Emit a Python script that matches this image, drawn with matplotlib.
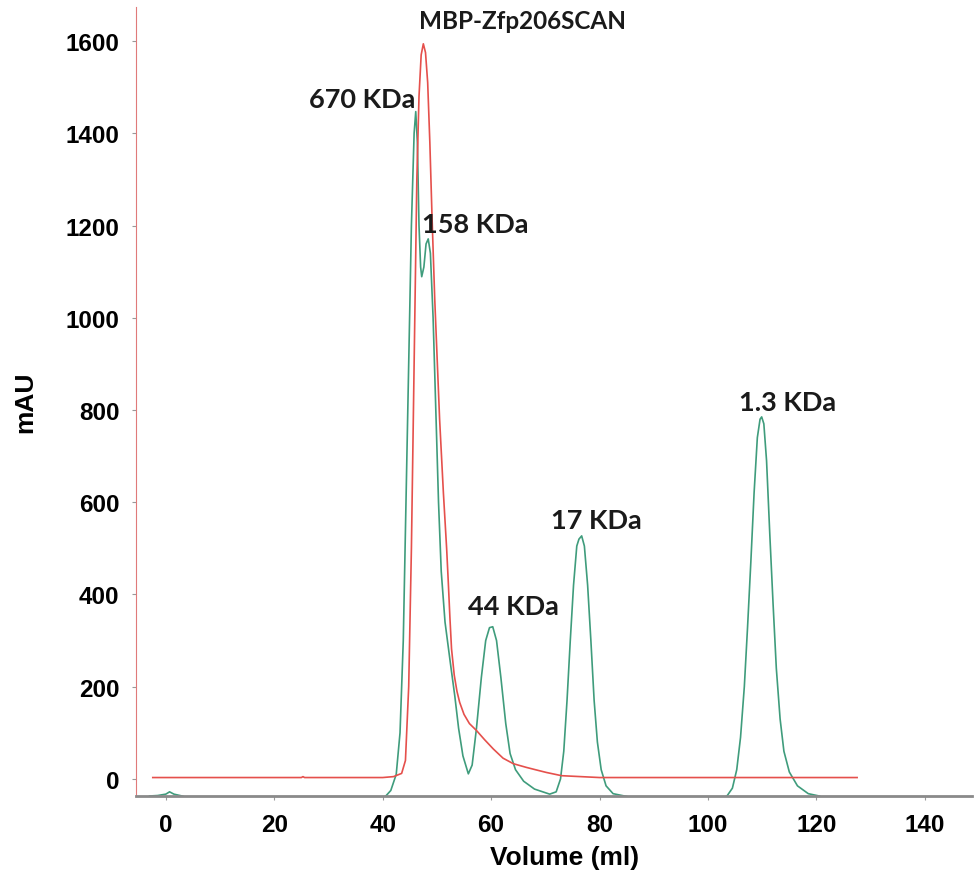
import matplotlib
matplotlib.use("Agg")
import matplotlib.pyplot as plt

matplotlib.rcParams['font.family'] = 'sans-serif'
matplotlib.rcParams['font.sans-serif'] = ['Liberation Sans', 'DejaVu Sans']

# calibration standards trace (green)
std_vol = [-3, -1.5, 0, 0.7, 1.5, 3, 5, 38, 40.5, 41.5, 42.5, 43.2, 43.8, 44.3, 44.8,
           45.3, 45.8, 46.1, 46.4, 46.7, 47.0, 47.2, 47.6, 48.0, 48.4, 48.8, 49.3,
           49.8, 50.3, 50.8, 51.5, 52.5, 53.3, 54.0, 54.8, 55.8, 56.5, 57.3, 58.2,
           59.0, 59.7, 60.3, 61.0, 61.8, 62.7, 63.5, 64.5, 66.0, 68.0, 70.8, 72.0,
           72.8, 73.4, 74.0, 74.6, 75.2, 75.8, 76.2, 76.7, 77.2, 77.8, 78.4, 79.0,
           79.6, 80.3, 81.2, 82.5, 85.0, 87.0, 102.0, 103.5, 104.5, 105.3, 106.0,
           106.7, 107.3, 107.9, 108.5, 109.1, 109.6, 109.9, 110.3, 110.8, 111.4,
           112.0, 112.6, 113.3, 114.0, 115.0, 116.5, 118.5, 120.5, 122.0]
std_mau = [-37, -36, -33, -28, -33, -37, -45, -45, -38, -25, 10, 100, 300, 600, 900,
           1200, 1400, 1447, 1380, 1200, 1110, 1089, 1110, 1160, 1171, 1140, 1000,
           800, 600, 450, 340, 250, 180, 110, 50, 11, 30, 110, 220,
           300, 328, 330, 300, 220, 120, 55, 20, -5, -22, -33, -28,
           0, 60, 170, 300, 420, 505, 520, 527, 505, 420, 300, 170,
           80, 20, -15, -32, -38, -45, -45, -37, -20, 20, 90,
           200, 330, 470, 620, 740, 780, 785, 770, 690, 530,
           380, 240, 130, 60, 15, -15, -32, -37, -45]

# MBP-Zfp206SCAN trace (red)
smp_vol = [-2.4, 10, 25.0, 25.3, 25.6, 40, 42, 43.5, 44.2, 44.8, 45.3, 45.8, 46.3,
           46.7, 47.1, 47.5, 47.9, 48.3, 48.7, 49.1, 49.6, 50.5, 51.2, 51.8, 52.1,
           52.4, 52.7, 53.2, 53.7, 54.2, 55.0, 56.0, 57.3, 58.8, 60.4, 62.2, 64.1,
           66.5, 68.5, 70.2, 73.0, 80, 127.5]
smp_mau = [3, 3, 3, 5, 3, 3, 5, 12, 40, 200, 500, 900, 1300,
           1480, 1570, 1594, 1575, 1510, 1380, 1220, 1041, 780, 620, 499, 427,
           350, 282, 225, 190, 166, 140, 120, 105, 85, 65, 45, 33,
           25, 19, 14, 7, 3, 3]

labels = ["MBP-Zfp206SCAN", "670 KDa", "158 KDa", "44 KDa", "17 KDa", "1.3 KDa"]
label_x = [65.7, 36.2, 57.0, 64.2, 79.5, 114.6]
label_y = [1644, 1475, 1204, 375, 562, 818]
label_size = [17.5, 19.5, 19.5, 19.5, 19.5, 19.5]

fig = plt.figure(figsize=(9.74, 8.79), dpi=100)
ax = fig.add_axes([0.1396, 0.0933, 0.8584, 0.8977])

ax.plot(std_vol, std_mau, color="#3f9c7c", linewidth=1.2)
ax.plot(smp_vol, smp_mau, color="#e5504c", linewidth=1.2)

for txt, x, y, s in zip(labels, label_x, label_y, label_size):
    ax.text(x, y, txt, fontsize=s, fontweight="bold", ha="center", va="center",
            family=["Lato", "DejaVu Sans"], color="#1a1a1a")

ax.set_xlim(-5.5, 148.7)
ax.set_ylim(-37, 1674)
ax.set_xticks(range(0, 141, 20))
ax.set_yticks(range(0, 1601, 200))

ax.spines['top'].set_visible(False)
ax.spines['right'].set_visible(False)
ax.spines['left'].set_color("#e07a7a")
ax.spines['bottom'].set_color("#8a8a8a")
ax.spines['bottom'].set_linewidth(2)
ax.tick_params(axis='both', length=3, color="#999999", labelsize=17.5, pad=9)
for lab in ax.get_xticklabels() + ax.get_yticklabels():
    lab.set_fontweight("bold")

ax.set_xlabel("Volume (ml)", fontsize=19, fontweight="bold", labelpad=8)
ax.xaxis.set_label_coords(0.513, -0.062)
ax.set_ylabel("mAU", fontsize=19, fontweight="bold", labelpad=20)

fig.savefig("out.png", dpi=100)
